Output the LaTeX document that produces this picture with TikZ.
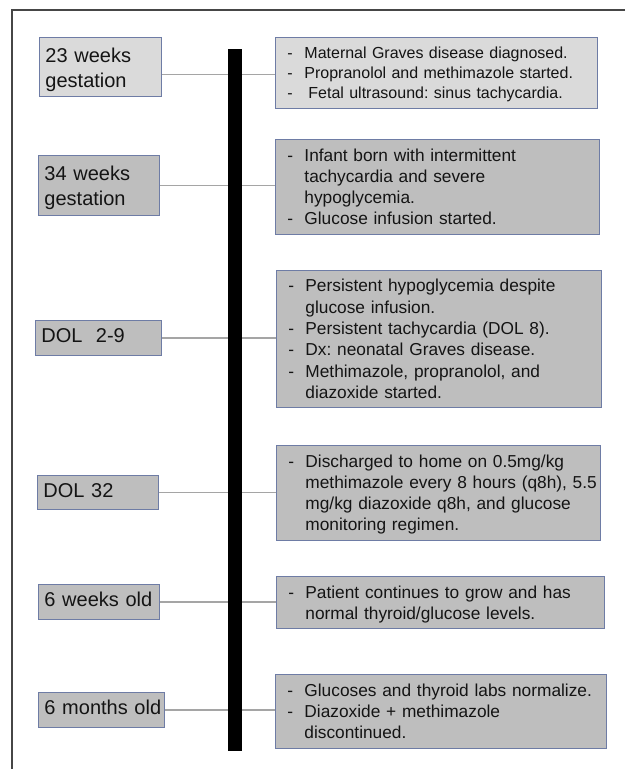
\documentclass[tikz,border=0pt]{standalone}
\usepackage{fontspec}
\setmainfont{Liberation Sans}
\definecolor{boxlight}{RGB}{218,218,218}
\definecolor{boxdark}{RGB}{190,190,190}
\definecolor{boxedge}{RGB}{110,124,165}
\definecolor{connc}{RGB}{165,165,165}
\definecolor{framec}{RGB}{70,70,70}
\definecolor{txt}{RGB}{20,20,20}
\frenchspacing
\newcommand\dlist[1]{\noindent\raisebox{-2pt}[\height][\depth]{\begin{tabular}{@{}p{17pt}@{}l@{}}#1\end{tabular}}}
\newcommand\llist[2][0pt]{\noindent\raisebox{#1}[\height][\depth]{\begin{tabular}{@{}l@{}}#2\end{tabular}}}
\tikzset{
  lbox/.style={draw=boxedge, line width=0.9pt, fill=boxdark, anchor=north west,
    inner xsep=6pt, inner ysep=0pt, align=left, text=txt,
    font=\fontsize{20}{25}\selectfont},
  rbox/.style={draw=boxedge, line width=0.9pt, fill=boxdark, anchor=north west,
    inner xsep=12pt, inner ysep=0pt, align=left, text=txt,
    font=\fontsize{17.3}{21}\selectfont},
  lightbox/.style={fill=boxlight},
  conn/.style={draw=connc, line width=1.1pt},
  timebar/.style={fill=black, anchor=north west, inner sep=0pt},
}
\begin{document}
\begin{tikzpicture}[x=1pt, y=-1pt]
\useasboundingbox (0,0) rectangle (625,769);
\draw[framec, line width=1.5pt] (625,10) -- (12,10) -- (12,769);

% left labels
\node[lbox, lightbox, text width=110pt, minimum height=59pt] (l1) at (39,37) {\llist[-3pt]{23 weeks\\gestation}};
\node[lbox, text width=109pt, minimum height=60pt] (l2) at (38,155) {\llist[-3pt]{34 weeks\\gestation}};
\node[lbox, text width=114pt, minimum height=35pt] (l3) at (35,320) {\llist{DOL\ \ 2-9}};
\node[lbox, text width=109pt, minimum height=34pt] (l4) at (37,475) {\llist{DOL 32}};
\node[lbox, text width=109pt, minimum height=35pt] (l5) at (38,584) {\llist{6 weeks old}};
\node[lbox, text width=114pt, minimum height=35pt] (l6) at (38,692) {\llist{6 months old}};

% right boxes
\node[rbox, lightbox, text width=298pt, minimum height=71pt, font=\fontsize{16}{20}\selectfont] (r1) at (275,37) {\dlist{-&Maternal Graves disease diagnosed.\\-&Propranolol and methimazole started.\\-&\hspace{4pt}Fetal ultrasound: sinus tachycardia.}};
\node[rbox, text width=300pt, minimum height=95pt] (r2) at (275,139) {\dlist{-&Infant born with intermittent\\&tachycardia and severe\\&hypoglycemia.\\-&Glucose infusion started.}};
\node[rbox, text width=301pt, minimum height=137pt, font=\fontsize{17.3}{21.3}\selectfont] (r3) at (276,270) {\dlist{-&Persistent hypoglycemia despite\\&glucose infusion.\\-&Persistent tachycardia (DOL 8).\\-&Dx: neonatal Graves disease.\\-&Methimazole, propranolol, and\\&diazoxide started.}};
\node[rbox, text width=300pt, minimum height=95pt] (r4) at (276,445) {\dlist{-&Discharged to home on 0.5mg/kg\\&methimazole every 8 hours (q8h), 5.5\\&mg/kg diazoxide q8h, and glucose\\&monitoring regimen.}};
\node[rbox, text width=304pt, minimum height=52pt] (r5) at (276,576) {\dlist{-&Patient continues to grow and has\\&normal thyroid/glucose levels.}};
\node[rbox, text width=307pt, minimum height=74pt] (r6) at (275,674) {\dlist{-&Glucoses and thyroid labs normalize.\\-&Diazoxide + methimazole\\&discontinued.}};

% connectors
\draw[conn] ([yshift=-7.5pt]l1.east) -- ([yshift=-7.5pt]l1.east -| r1.west);
\draw[conn] (l2.east) -- (l2.east -| r2.west);
\draw[conn] (l3.east) -- (l3.east -| r3.west);
\draw[conn] (l4.east) -- (l4.east -| r4.west);
\draw[conn] (l5.east) -- (l5.east -| r5.west);
\draw[conn] (l6.east) -- (l6.east -| r6.west);

% timeline bar
\node[timebar, minimum width=14pt, minimum height=702pt] (bar) at (228,49) {};
\end{tikzpicture}
\end{document}
